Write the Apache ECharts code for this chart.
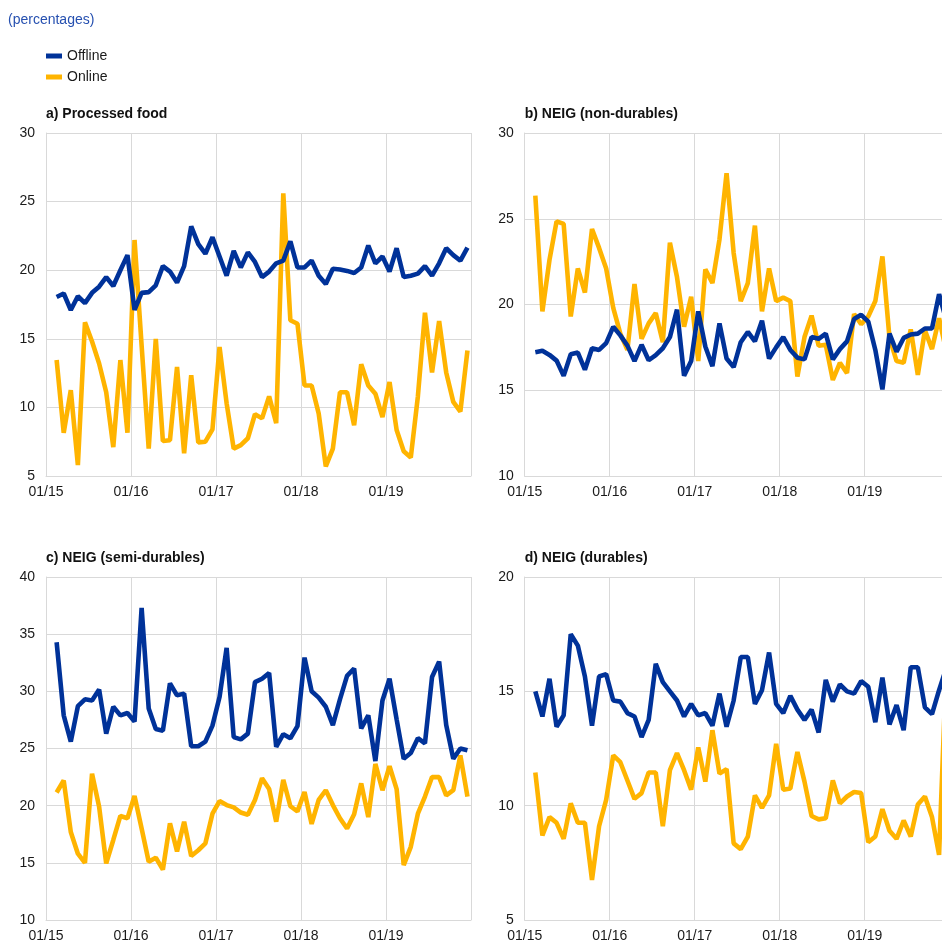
<!DOCTYPE html>
<html>
<head>
<meta charset="utf-8">
<script src="https://cdn.jsdelivr.net/npm/echarts@6/dist/echarts.min.js"></script>
<style>
html,body{margin:0;padding:0;background:#fff;overflow:hidden;width:942px;height:947px;}
#chart{width:960px;height:947px;}
</style>
</head>
<body>
<div id="chart"></div>
<script>
// Monthly observations: Feb 2015 .. Dec 2019
const months = [];
for (let y = 2015; y <= 2019; y++) {
  for (let m = 1; m <= 12; m++) {
    if (y === 2015 && m === 1) continue;
    months.push(y + '-' + String(m).padStart(2, '0'));
  }
}
const xTickLabels = ['01/15', '01/16', '01/17', '01/18', '01/19'];
const seriesNames = ['Offline', 'Online'];
const panelTitles = ['a) Processed food', 'b) NEIG (non-durables)', 'c) NEIG (semi-durables)', 'd) NEIG (durables)'];

const foodOffline = [18.05,18.3,17.1,18.1,17.6,18.35,18.8,19.5,18.85,20.0,21.1,17.1,18.35,18.4,18.9,20.3,19.9,19.1,20.3,23.2,21.9,21.2,22.4,21.0,19.6,21.4,20.2,21.3,20.6,19.5,19.9,20.5,20.7,22.1,20.2,20.2,20.7,19.6,19.0,20.1,20.05,19.95,19.8,20.2,21.8,20.5,21.0,19.9,21.6,19.5,19.6,19.75,20.3,19.6,20.5,21.6,21.1,20.7,21.65];
const foodOnline = [13.45,8.15,11.25,5.8,16.2,14.8,13.2,11.1,7.1,13.45,8.15,22.2,14.5,7.0,15.0,7.55,7.6,12.95,6.65,12.35,7.45,7.5,8.4,14.4,10.3,7.0,7.25,7.75,9.5,9.2,10.8,8.85,25.6,16.35,16.1,11.6,11.6,9.55,5.7,7.0,11.1,11.1,8.7,13.15,11.6,11.0,9.3,11.85,8.35,6.8,6.35,10.8,16.9,12.55,16.3,12.55,10.4,9.7,14.15];

const nonDurOffline = [17.22,17.3,17.06,16.73,15.84,17.1,17.2,16.2,17.45,17.35,17.75,18.7,18.2,17.6,16.7,17.65,16.75,17.05,17.45,18.1,19.7,15.85,16.7,19.6,17.55,16.4,18.9,16.85,16.35,17.8,18.4,17.85,19.05,16.85,17.5,18.1,17.35,16.9,16.8,18.1,18.0,18.3,16.8,17.4,17.85,19.15,19.4,19.0,17.35,15.05,18.3,17.25,18.05,18.25,18.3,18.6,18.6,20.6,19.1];
const nonDurOnline = [26.35,19.6,22.6,24.85,24.7,19.3,22.1,20.7,24.4,23.3,22.1,19.8,18.3,17.35,21.2,18.0,18.9,19.5,17.8,23.6,21.6,18.7,20.45,16.7,22.05,21.25,23.8,27.65,23.0,20.2,21.25,24.6,19.6,22.1,20.2,20.4,20.2,15.8,18.1,19.35,17.6,17.65,15.6,16.6,16.0,19.45,18.85,19.3,20.2,22.8,18.05,16.7,16.6,18.55,15.9,18.5,17.4,19.2,17.3];

const semiDurOffline = [34.3,27.9,25.6,28.7,29.3,29.2,30.15,26.3,28.65,27.9,28.1,27.35,37.3,28.5,26.7,26.55,30.7,29.65,29.8,25.2,25.2,25.6,27.0,29.5,33.8,26.0,25.8,26.3,30.8,31.1,31.6,25.15,26.25,25.9,26.95,32.95,30.0,29.45,28.65,27.05,29.3,31.35,32.0,26.75,27.9,23.9,29.2,31.1,27.55,24.1,24.6,25.9,25.45,31.25,32.6,27.05,24.1,25.0,24.85];
const semiDurOnline = [21.15,22.2,17.7,15.8,15.0,22.8,19.9,14.95,17.0,19.1,18.9,20.85,18.0,15.1,15.45,14.4,18.45,16.0,18.6,15.6,16.1,16.7,19.3,20.4,20.05,19.85,19.4,19.2,20.5,22.4,21.45,18.6,22.25,19.95,19.5,21.2,18.4,20.5,21.35,20.05,18.9,18.0,19.25,21.95,19.0,23.65,21.35,23.45,21.45,14.8,16.4,19.3,20.8,22.5,22.5,20.9,21.35,24.4,20.8];

const durOffline = [15.0,13.9,15.55,13.45,13.95,17.5,17.0,15.65,13.5,15.65,15.75,14.6,14.55,14.05,13.9,13.0,13.75,16.2,15.4,15.0,14.6,13.9,14.45,13.95,14.05,13.5,14.9,13.45,14.6,16.5,16.5,14.45,15.05,16.7,14.45,14.05,14.8,14.2,13.75,14.2,13.2,15.5,14.55,15.3,15.0,14.9,15.45,15.2,13.65,15.6,13.55,14.4,13.3,16.05,16.05,14.3,14.0,15.05,16.0];
const durOnline = [11.45,8.7,9.5,9.25,8.55,10.1,9.25,9.25,6.75,9.1,10.25,12.2,11.9,11.1,10.3,10.55,11.45,11.45,9.1,11.55,12.3,11.55,10.7,12.55,11.05,13.3,11.4,11.6,8.35,8.1,8.65,10.45,9.9,10.45,12.7,10.7,10.75,12.35,11.05,9.55,9.4,9.45,11.1,10.1,10.4,10.6,10.55,8.4,8.65,9.85,8.9,8.55,9.35,8.65,10.05,10.4,9.5,7.85,16.0];

const yRanges = [[5, 30], [10, 30], [10, 40], [5, 20]];
const panelData = [
  [foodOffline, foodOnline],
  [nonDurOffline, nonDurOnline],
  [semiDurOffline, semiDurOnline],
  [durOffline, durOnline]
];

// ---- presentation ----
const FONT = 'Liberation Sans, Arial, sans-serif';
const COLORS = ['#003299', '#FFB400'];
const GRID_COLOR = '#d9d9d9';
const grids = [
  {left: 46, top: 133, width: 425, height: 343},
  {left: 524.7, top: 133, width: 425, height: 343},
  {left: 46, top: 577, width: 425, height: 343},
  {left: 524.7, top: 577, width: 425, height: 343}
];

function monthPos(s) {
  const y = +s.slice(0, 4), m = +s.slice(5, 7);
  return (y - 2015) * 12 + (m - 1) + 0.5;
}

const xAxes = grids.map((g, i) => ({
  type: 'value', gridIndex: i, min: 0, max: 60, interval: 12,
  axisLine: {show: true, lineStyle: {color: GRID_COLOR, width: 1}},
  axisTick: {show: false},
  splitLine: {show: true, lineStyle: {color: GRID_COLOR, width: 1}},
  axisLabel: {
    color: '#1a1a1a', fontSize: 14, fontFamily: FONT, margin: 9,
    formatter: v => xTickLabels[v / 12] || ''
  }
}));
const yAxes = grids.map((g, i) => ({
  type: 'value', gridIndex: i, min: yRanges[i][0], max: yRanges[i][1], interval: 5,
  axisLine: {show: true, lineStyle: {color: GRID_COLOR, width: 1}},
  axisTick: {show: false},
  splitLine: {show: true, lineStyle: {color: GRID_COLOR, width: 1}},
  axisLabel: {color: '#1a1a1a', fontSize: 14, fontFamily: FONT, margin: 11}
}));

const series = [];
panelData.forEach((pair, p) => {
  pair.forEach((vals, s) => {
    series.push({
      name: seriesNames[s], type: 'line', xAxisIndex: p, yAxisIndex: p,
      data: months.map((m, k) => [monthPos(m), vals[k]]),
      showSymbol: false, symbol: 'none', smooth: false,
      lineStyle: {color: COLORS[s], width: 4.6},
      itemStyle: {color: COLORS[s]},
      z: s === 0 ? 3 : 2,
      animation: false
    });
  });
});

const titles = [{
  text: '(percentages)', left: 8, top: 13, padding: 0,
  textStyle: {color: '#2650b0', fontSize: 14, fontWeight: 'normal', fontFamily: FONT}
}];
panelTitles.forEach((t, i) => {
  titles.push({
    text: t, left: grids[i].left, top: grids[i].top - 26, padding: 0,
    textStyle: {color: '#111', fontSize: 14, fontWeight: 'bold', fontFamily: FONT}
  });
});

const chart = echarts.init(document.getElementById('chart'), null, {renderer: 'canvas'});
chart.setOption({
  animation: false,
  backgroundColor: '#fff',
  title: titles,
  legend: {
    data: seriesNames, orient: 'vertical', left: 46, top: 48, padding: 0,
    icon: 'rect', itemWidth: 16, itemHeight: 5, itemGap: 5,
    textStyle: {color: '#1a1a1a', fontSize: 14, fontFamily: FONT, lineHeight: 16}
  },
  grid: grids,
  xAxis: xAxes,
  yAxis: yAxes,
  series: series
});
</script>
</body>
</html>
